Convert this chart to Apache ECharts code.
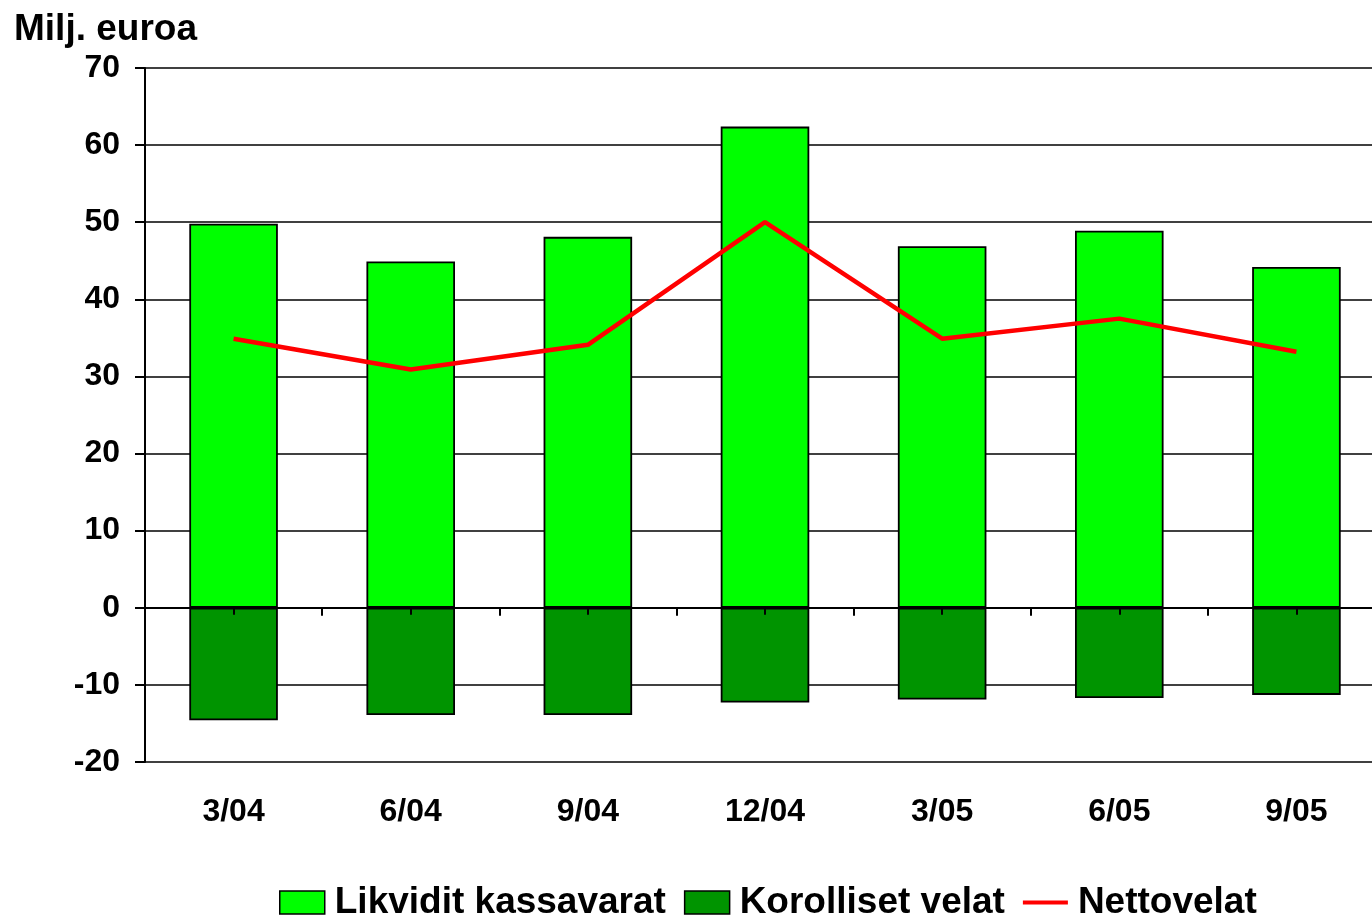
<!DOCTYPE html>
<html>
<head>
<meta charset="utf-8">
<script src="https://cdn.jsdelivr.net/npm/echarts@6/dist/echarts.min.js"></script>
<style>html,body{margin:0;padding:0;background:#fff;overflow:hidden;}#c{width:1385px;height:920px;}</style>
</head>
<body>
<div id="c"></div>
<script>
const categories = ['3/04', '6/04', '9/04', '12/04', '3/05', '6/05', '9/05'];
const likvidit = [49.8, 44.9, 48.1, 62.4, 46.9, 48.9, 44.2];
const korolliset = [-14.6, -13.9, -13.9, -12.3, -11.9, -11.7, -11.3];
const netto = [34.9, 30.9, 34.1, 50.0, 34.9, 37.5, 33.2];
const yTicks = { min: -20, max: 70, interval: 10 };

const FONT = "'Liberation Sans', Arial, sans-serif";
const chart = echarts.init(document.getElementById('c'), null, { renderer: 'canvas' });
chart.setOption({
  animation: false,
  backgroundColor: '#ffffff',
  title: {
    text: 'Milj. euroa', left: 9, top: 6,
    textStyle: { fontFamily: FONT, fontWeight: 'bold', fontSize: 37, color: '#000' }
  },
  legend: {
    left: 274, top: 879,
    itemWidth: 45, itemHeight: 23, itemGap: 18,
    textStyle: { fontFamily: FONT, fontWeight: 'bold', fontSize: 37, color: '#000', padding: [0, 0, 0, 5] },
    data: [
      { name: 'Likvidit kassavarat', icon: 'rect', itemStyle: { borderColor: '#000', borderWidth: 1.5 } },
      { name: 'Korolliset velat', icon: 'rect', itemStyle: { borderColor: '#000', borderWidth: 1.5 } },
      { name: 'Nettovelat', icon: 'path://M0,0L0.01,0M0,9.5L45,9.5L45,13.5L0,13.5ZM0,23L0.01,23', itemStyle: { color: '#ff0000', borderWidth: 0 } }
    ]
  },
  grid: { left: 145, top: 68, bottom: 158, right: 0 },
  xAxis: [
    {
      type: 'category', data: categories, z: 5, position: 'bottom',
      axisLine: { onZero: true, onZeroAxisIndex: 0, lineStyle: { color: '#000', width: 2 } },
      axisTick: { show: true, alignWithLabel: false, length: 8, lineStyle: { color: '#000', width: 2 } },
      axisLabel: { show: false }, splitLine: { show: false }
    },
    {
      type: 'category', data: categories, z: 5, position: 'bottom',
      axisLine: { show: false, onZero: true, onZeroAxisIndex: 1 },
      axisTick: { show: true, alignWithLabel: true, length: 7, lineStyle: { color: '#000', width: 2 } },
      axisLabel: { show: false }, splitLine: { show: false }
    },
    {
      type: 'category', data: categories, position: 'bottom',
      axisLine: { show: false, onZero: false },
      axisTick: { show: false },
      axisLabel: { show: true, margin: 34, fontFamily: FONT, fontWeight: 'bold', fontSize: 32, color: '#000' },
      splitLine: { show: false }
    }
  ],
  yAxis: [
    {
      type: 'value', min: yTicks.min, max: yTicks.max, interval: yTicks.interval, position: 'left',
      axisLine: { show: true, lineStyle: { color: '#000', width: 2 } },
      axisTick: { show: true, length: 10, lineStyle: { color: '#000', width: 2 } },
      axisLabel: { margin: 25, fontFamily: FONT, fontWeight: 'bold', fontSize: 32, color: '#000' },
      splitLine: { show: true, lineStyle: { color: '#000', width: 1.6 } }
    },
    {
      type: 'value', min: yTicks.min, max: yTicks.max, interval: yTicks.interval, position: 'right',
      axisLine: { show: false }, axisTick: { show: false }, axisLabel: { show: false }, splitLine: { show: false }
    }
  ],
  series: [
    {
      name: 'Likvidit kassavarat', type: 'bar', stack: 'a', data: likvidit, barWidth: '50%',
      itemStyle: { color: '#00ff00', borderColor: '#000', borderWidth: 1.8 }
    },
    {
      name: 'Korolliset velat', type: 'bar', stack: 'a', data: korolliset, barWidth: '50%',
      itemStyle: { color: '#009400', borderColor: '#000', borderWidth: 1.8 }
    },
    {
      name: 'Nettovelat', type: 'line', data: netto, symbol: 'none', z: 10,
      lineStyle: { color: '#ff0000', width: 4.5 }, itemStyle: { color: '#ff0000' }
    }
  ]
});
</script>
</body>
</html>
